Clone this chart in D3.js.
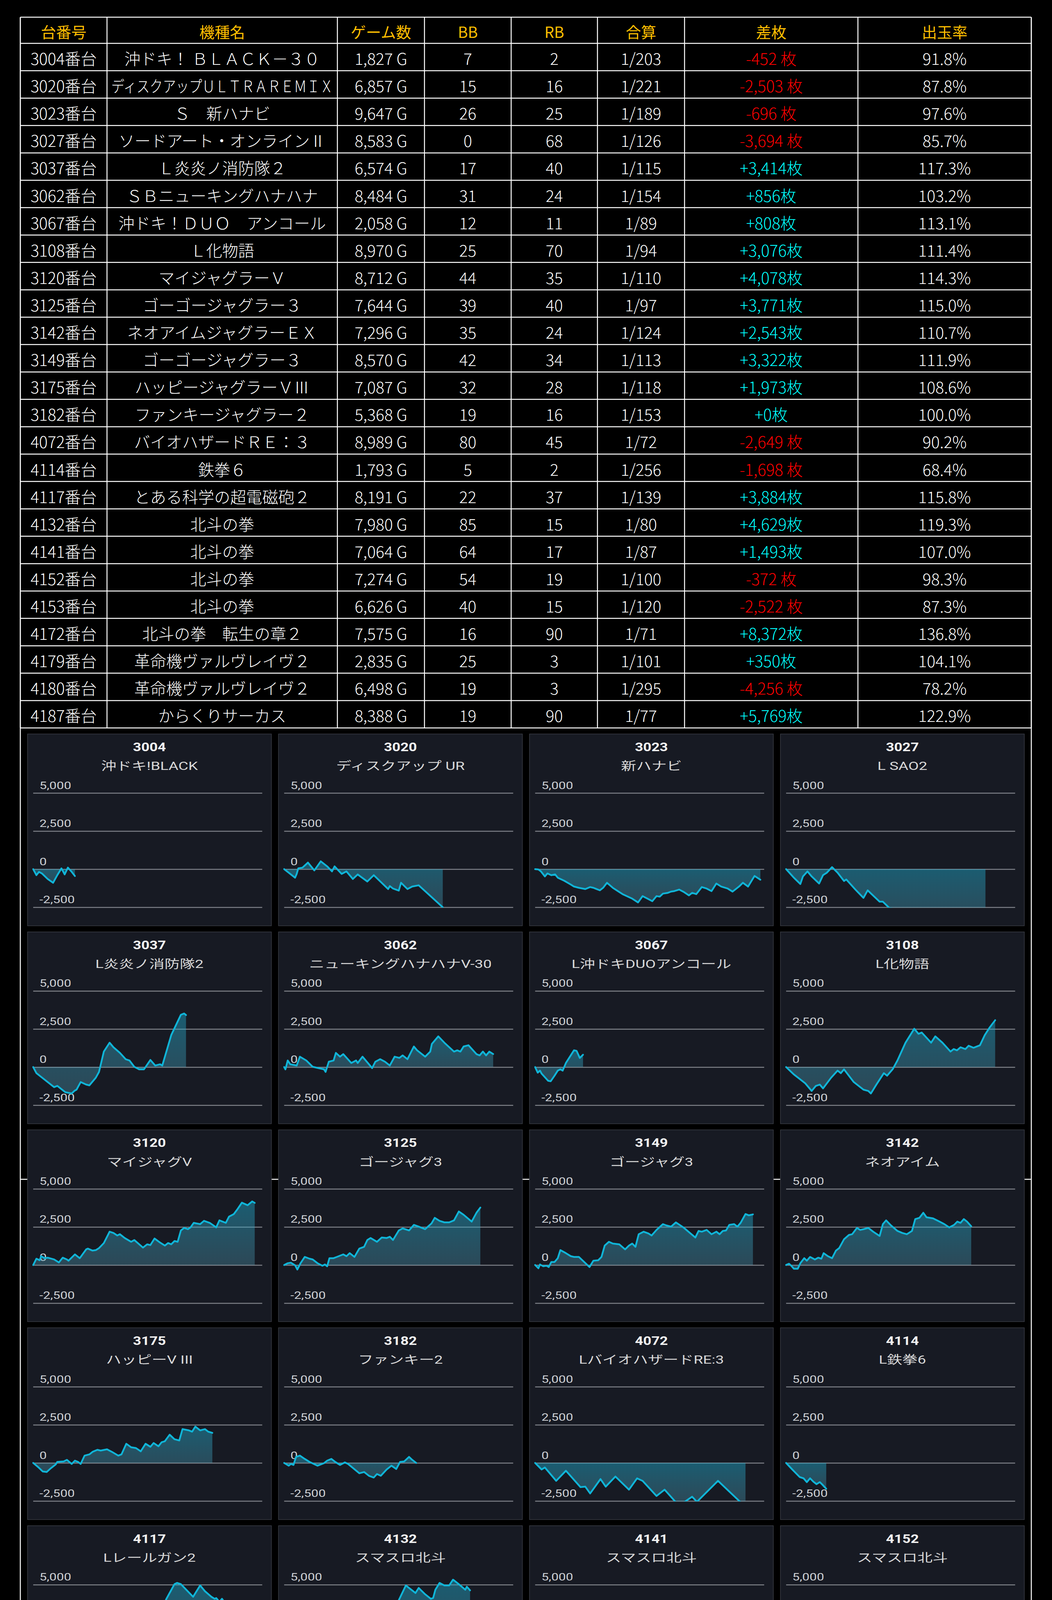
<!DOCTYPE html>
<html>
<head>
<meta charset="utf-8">
<script src="https://cdn.jsdelivr.net/npm/d3@7"></script>
<style>
  body { margin: 0; background: #000; }
</style>
</head>
<body>
<script>
// ====================== TABLE DATA ======================
const machineNos = [3004, 3020, 3023, 3027, 3037, 3062, 3067, 3108, 3120, 3125, 3142, 3149, 3175, 3182, 4072, 4114, 4117, 4132, 4141, 4152, 4153, 4172, 4179, 4180, 4187]
const machineNames = [
  '沖ドキ！ ＢＬＡＣＫ－３０', 'ディスクアップＵＬＴＲＡＲＥＭＩＸ', 'Ｓ　新ハナビ', 'ソードアート・オンラインⅡ',
  'Ｌ炎炎ノ消防隊２', 'ＳＢニューキングハナハナ', '沖ドキ！ＤＵＯ　アンコール', 'Ｌ化物語',
  'マイジャグラーＶ', 'ゴーゴージャグラー３', 'ネオアイムジャグラーＥＸ', 'ゴーゴージャグラー３',
  'ハッピージャグラーＶⅢ', 'ファンキージャグラー２', 'バイオハザードＲＥ：３', '鉄拳６',
  'とある科学の超電磁砲２', '北斗の拳', '北斗の拳', '北斗の拳', '北斗の拳',
  '北斗の拳　転生の章２', '革命機ヴァルヴレイヴ２', '革命機ヴァルヴレイヴ２', 'からくりサーカス'
]
const games = [1827, 6857, 9647, 8583, 6574, 8484, 2058, 8970, 8712, 7644, 7296, 8570, 7087, 5368, 8989, 1793, 8191, 7980, 7064, 7274, 6626, 7575, 2835, 6498, 8388]
const bbCounts = [7, 15, 26, 0, 17, 31, 12, 25, 44, 39, 35, 42, 32, 19, 80, 5, 22, 85, 64, 54, 40, 16, 25, 19, 19]
const rbCounts = [2, 16, 25, 68, 40, 24, 11, 70, 35, 40, 24, 34, 28, 16, 45, 2, 37, 15, 17, 19, 15, 90, 3, 3, 90]
const combined = [203, 221, 189, 126, 115, 154, 89, 94, 110, 97, 124, 113, 118, 153, 72, 256, 139, 80, 87, 100, 120, 71, 101, 295, 77]
const diffs = [-452, -2503, -696, -3694, 3414, 856, 808, 3076, 4078, 3771, 2543, 3322, 1973, 0, -2649, -1698, 3884, 4629, 1493, -372, -2522, 8372, 350, -4256, 5769]
const payouts = [91.8, 87.8, 97.6, 85.7, 117.3, 103.2, 113.1, 111.4, 114.3, 115.0, 110.7, 111.9, 108.6, 100.0, 90.2, 68.4, 115.8, 119.3, 107.0, 98.3, 87.3, 136.8, 104.1, 78.2, 122.9]
const headers = ['台番号', '機種名', 'ゲーム数', 'BB', 'RB', '合算', '差枚', '出玉率']

// ====================== PANEL DATA ======================
const panelNos = [3004, 3020, 3023, 3027, 3037, 3062, 3067, 3108, 3120, 3125, 3149, 3142, 3175, 3182, 4072, 4114, 4117, 4132, 4141, 4152, 4153, 4172, 4179, 4180, 4187]
const panelNames = [
  '沖ドキ!BLACK', 'ディスクアップ UR', '新ハナビ', 'L SAO2',
  'L炎炎ノ消防隊2', 'ニューキングハナハナV-30', 'L沖ドキDUOアンコール', 'L化物語',
  'マイジャグV', 'ゴージャグ3', 'ゴージャグ3', 'ネオアイム',
  'ハッピーV III', 'ファンキー2', 'LバイオハザードRE:3', 'L鉄拳6',
  'Lレールガン2', 'スマスロ北斗', 'スマスロ北斗', 'スマスロ北斗',
  'スマスロ北斗', 'L北斗転生2', 'Lヴァルヴレイヴ2', 'Lヴァルヴレイヴ2',
  'からくりサーカス'
]
const yTicks = [-2500, 0, 2500, 5000]

// [games, difference]
const s3004 = [[0,0],[138,-397],[248,-182],[372,-282],[620,-646],[854,-894],[1034,-397],[1213,50],[1350,-348],[1488,100],[1654,-182],[1791,-452]]
const s3020 = [[0,0],[468,-563],[537,-315],[606,50],[785,100],[1020,430],[1295,-83],[1571,513],[1847,182],[2053,-149],[2163,182],[2467,-315],[2673,-149],[2949,-646],[3156,-348],[3569,-811],[3845,-397],[4465,-1308],[4534,-1110],[4672,-1275],[4920,-1408],[5016,-894],[5292,-1308],[5498,-1143],[5774,-1060],[6807,-2503]]
const s3023 = [[0,0],[138,-17],[249,-149],[417,-480],[527,-282],[693,-397],[860,-348],[972,-563],[1250,-762],[1528,-1010],[1667,-1142],[1875,-1225],[2153,-1308],[2361,-1176],[2500,-1225],[2778,-1391],[2917,-1225],[3084,-894],[3334,-1225],[3750,-1640],[4167,-1937],[4417,-2186],[4611,-1772],[4862,-1970],[5028,-2103],[5209,-1772],[5348,-1805],[5486,-1606],[5695,-1556],[5834,-1474],[5973,-1441],[6181,-1341],[6390,-1507],[6598,-1722],[6737,-1556],[6917,-1640],[7153,-1176],[7362,-1275],[7570,-1441],[7778,-944],[7987,-1143],[8264,-1275],[8473,-1474],[8751,-1143],[8917,-894],[9139,-1143],[9417,-447],[9667,-696]]
const s3027 = [[0,0],[333,-563],[611,-977],[722,-480],[917,-149],[1097,-480],[1417,-944],[1584,-397],[1750,-232],[1972,132],[2209,-232],[2486,-778],[2584,-679],[2973,-1341],[3320,-1888],[3500,-1391],[3806,-1838],[4014,-2136],[4153,-2136],[4431,-2550],[8556,-3694]]
const s3037 = [[0,0],[138,-400],[413,-733],[689,-1067],[896,-1317],[1034,-1234],[1378,-1650],[1654,-1734],[1764,-1567],[1860,-1484],[2039,-983],[2274,-1150],[2412,-1200],[2687,-700],[2825,-317],[3032,1017],[3280,1600],[3445,1300],[3721,933],[3969,517],[4134,433],[4341,17],[4548,-150],[4754,-150],[5030,467],[5237,100],[5444,183],[5540,100],[5925,2100],[6339,3434],[6477,3517],[6559,3414]]
const s3062 = [[0,0],[55,-150],[152,433],[262,183],[537,100],[675,683],[951,433],[1226,17],[1709,-150],[1778,-317],[1915,350],[2122,433],[2219,933],[2398,683],[2536,850],[2881,267],[3087,433],[3156,267],[3362,683],[3776,-67],[3914,350],[4120,517],[4327,350],[4534,100],[4741,683],[4947,600],[5085,767],[5292,517],[5567,1350],[5705,1100],[6050,683],[6270,1017],[6339,1517],[6615,2017],[6876,1600],[7290,1017],[7427,1100],[7565,1017],[7703,1350],[7910,1433],[8254,850],[8392,767],[8530,1017],[8668,767],[8806,1017],[8971,856]]
const s3067 = [[0,0],[111,-367],[208,-233],[278,-433],[556,-900],[667,-933],[833,-567],[972,-233],[1083,-150],[1181,-233],[1320,267],[1667,1100],[1778,1067],[1917,600],[2056,808]]
const s3108 = [[0,0],[333,-483],[542,-733],[681,-900],[820,-1067],[1097,-1567],[1278,-1233],[1445,-1150],[1584,-1400],[1931,-700],[2209,-233],[2348,-400],[2486,-150],[2903,-983],[3320,-1483],[3528,-1567],[3639,-1733],[3875,-1150],[4195,-400],[4334,-567],[4570,-150],[4778,433],[5125,1600],[5500,2517],[5681,2183],[5820,2267],[6223,1600],[6403,2017],[6709,1600],[7056,1017],[7195,1183],[7334,1100],[7487,1300],[7695,1183],[7834,1400],[8042,1267],[8320,1433],[8528,2100],[8737,2600],[8973,3076]]
const s3120 = [[0,0],[138,414],[276,315],[345,580],[482,447],[620,480],[896,364],[1102,166],[1268,480],[1447,364],[1516,282],[1791,696],[1998,447],[2274,1027],[2343,1076],[2549,944],[2687,977],[2825,1110],[3032,1441],[3280,2186],[3445,2103],[3610,1938],[3721,2020],[3927,1772],[4203,1524],[4341,1640],[4713,1143],[4892,1358],[5030,1308],[5209,1739],[5443,1474],[5650,1275],[5788,1441],[5925,1358],[6063,1573],[6201,1524],[6339,2269],[6477,2434],[6642,2351],[6752,2467],[6890,2766],[7166,2683],[7331,2898],[7579,2766],[7855,2467],[7992,2931],[8268,2766],[8406,3180],[8613,3345],[8750,3627],[8957,4090],[9205,3925],[9398,4173],[9508,4078]]
const s3125 = [[0,0],[152,116],[290,149],[469,-17],[565,-298],[703,116],[882,530],[1089,414],[1226,364],[1433,116],[1640,-50],[1750,33],[1846,-83],[1943,447],[2122,447],[2260,530],[2398,613],[2536,696],[2674,580],[2811,779],[3018,530],[3225,1076],[3431,1192],[3569,1640],[3707,1772],[3983,1524],[4189,1805],[4396,1772],[4534,1855],[4671,1640],[4920,2269],[5085,2401],[5360,2269],[5567,2633],[5774,2517],[6050,2352],[6325,2733],[6463,3097],[6670,2898],[6876,2799],[7083,2799],[7290,2931],[7496,3511],[7703,3296],[8048,2849],[8254,3428],[8420,3771]]
const s3149 = [[0,0],[139,-215],[208,33],[347,-83],[486,-50],[583,-132],[695,199],[834,199],[972,447],[1083,977],[1320,778],[1528,580],[1667,530],[1875,530],[2334,-132],[2500,282],[2709,314],[2848,530],[2986,1275],[3167,1524],[3334,1408],[3611,1358],[3862,1027],[4028,1275],[4167,1408],[4306,1192],[4445,2020],[4653,2186],[4862,2069],[5000,1938],[5209,2302],[5486,2683],[5626,2600],[5834,2517],[6042,2799],[6390,2434],[6876,1805],[7014,2236],[7153,2186],[7362,2302],[7570,2020],[7778,2186],[7917,2020],[8056,2236],[8195,2269],[8334,2633],[8542,2683],[8681,2517],[8820,2766],[9029,3345],[9167,3262],[9348,3322]]
const s3142 = [[0,0],[125,83],[222,-50],[333,-248],[500,-248],[611,116],[778,447],[889,282],[1028,530],[1236,364],[1375,480],[1514,414],[1611,778],[1792,580],[1972,447],[2139,944],[2278,1110],[2486,1689],[2695,1971],[2834,2020],[3042,2434],[3181,2302],[3320,2351],[3528,2434],[3737,2186],[4014,1905],[4153,2683],[4292,2931],[4500,2600],[4778,2236],[4986,2103],[5181,2019],[5403,2236],[5542,3014],[5722,3097],[5889,3428],[6028,3130],[6306,3064],[6584,2848],[6792,2683],[7000,2467],[7209,2633],[7348,2848],[7487,2766],[7626,3014],[7764,2848],[7945,2543]]
const s3175 = [[0,0],[207,-265],[413,-563],[579,-596],[758,-348],[965,-99],[1034,66],[1309,99],[1447,199],[1654,-66],[1791,149],[1929,66],[2039,-66],[2205,480],[2412,563],[2549,729],[2756,861],[2894,811],[3169,894],[3376,729],[3652,480],[3790,563],[3996,1259],[4203,1027],[4410,977],[4616,762],[4823,1259],[5030,1060],[5168,1308],[5374,1093],[5512,1358],[5650,1424],[5857,1855],[6063,1557],[6270,1474],[6408,2219],[6684,2136],[6821,2053],[6959,2385],[7166,2136],[7372,2219],[7510,2053],[7689,1973]]
const s3182 = [[0,0],[193,-182],[289,-66],[400,-132],[510,397],[675,480],[882,265],[1089,66],[1433,-182],[1709,-17],[1846,149],[2026,265],[2191,66],[2398,-132],[2605,33],[2743,-66],[3225,-679],[3431,-596],[3638,-845],[3845,-961],[3983,-729],[4148,-845],[4396,-431],[4603,-182],[4810,-398],[4975,66],[5154,99],[5360,397],[5498,199],[5664,0]]
const s4072 = [[0,0],[278,-431],[417,-298],[903,-1176],[1320,-513],[1945,-1590],[2153,-1557],[2361,-2004],[2806,-1060],[3028,-1557],[3445,-894],[4028,-1755],[4375,-1010],[4611,-1176],[5209,-2169],[5556,-1755],[6042,-2584],[6389,-2584],[6737,-2219],[6945,-2550],[7848,-1176],[8820,-2584],[9029,-2649]]
const s4114 = [[0,0],[264,-431],[583,-927],[750,-1010],[889,-1259],[1028,-1010],[1167,-1226],[1306,-1391],[1445,-1259],[1556,-1424],[1722,-1698]]
const s4117 = [[0,0],[110,-182],[248,-17],[413,563],[689,1722],[965,2385],[1171,2848],[1378,2633],[1516,2418],[1654,2633],[1723,2418],[1860,3014],[2067,2799],[2232,3047],[2412,2749],[2508,2881],[2825,2385],[2963,2716],[3169,2302],[3335,2302],[3473,2053],[3652,2467],[3831,2749],[3996,2517],[4134,2302],[4272,2683],[4437,2517],[4616,3014],[4892,3743],[5071,3544],[5168,3627],[5443,3130],[5719,4074],[6063,5034],[6173,5117],[6339,5034],[6863,4206],[7166,4951],[7372,4571],[7648,4206],[7786,4074],[7855,4124],[7992,3875],[8103,4074],[8191,3884]]
const s4132 = [[0,0],[96,149],[234,232],[427,646],[606,1093],[813,1358],[1089,1060],[1295,927],[1433,1308],[1778,762],[2122,364],[2301,397],[2398,811],[2536,646],[2950,149],[3224,480],[3335,480],[3500,17],[3597,563],[3983,1474],[4396,2385],[4809,3627],[5223,4951],[5429,4703],[5636,4455],[5774,4786],[6050,4372],[6297,4074],[6394,4124],[6490,4670],[6670,5117],[6876,4951],[7083,4951],[7248,5332],[7496,5034],[7772,4670],[7841,4869],[7979,4629]]
const s4141 = [[0,0],[111,-265],[208,-298],[278,-513],[486,66],[764,762],[1083,1524],[1278,1093],[1458,1524],[1667,1259],[2014,729],[2153,646],[2292,894],[2431,762],[2528,894],[2709,646],[2848,861],[2986,563],[3125,729],[3264,530],[3334,1093],[3542,927],[3723,927],[3889,1391],[4000,1424],[4195,1755],[4334,1855],[4514,1590],[4653,1391],[4792,1424],[4931,1192],[5028,1524],[5250,1524],[5487,1192],[5695,861],[5973,563],[6112,480],[6278,149],[6389,364],[6500,364],[6695,1093],[6973,1689],[7084,1493]]
const s4152 = [[0,0],[194,-182],[681,-845],[820,-298],[1375,-1010],[1584,-762],[1722,-646],[1792,-563],[1931,-66],[2070,-17],[2250,-298],[2389,-182],[2528,-431],[2625,-182],[2722,-513],[2903,149],[3111,-132],[3320,-431],[3500,-99],[3737,-398],[3945,-66],[4112,-265],[4250,-66],[4431,-679],[4653,-132],[4903,431],[5056,149],[5278,894],[5473,596],[5681,431],[5889,265],[6098,66],[6237,-17],[6973,-1060],[7251,-372]]
const s4153 = [[0,0],[138,166],[345,248],[482,-33],[689,497],[965,132],[1240,-248],[1516,-497],[1654,-696],[1723,-629],[1998,-1076],[2343,-1656],[2687,-2236],[2894,-2186],[3032,-2401],[3197,-2186],[3418,-2567],[4200,-2900],[5100,-2600],[5236,-2153],[5374,-2286],[5540,-2120],[5719,-2319],[5926,-2319],[6132,-2517],[6366,-2319],[6642,-2522]]
const s4172 = [[0,0],[331,-530],[510,-33],[648,-166],[744,-248],[1364,-1242],[1640,-331],[1846,-629],[2026,-248],[2163,-629],[2301,-414],[2604,-1076],[2880,166],[3156,1076],[3294,911],[3404,1358],[3707,1027],[3914,1573],[4189,1126],[4368,1325],[4741,795],[5154,2236],[5223,2236],[5360,2351],[5498,2732],[6187,5216],[6297,5133],[6435,5415],[7593,8372]]
const s4179 = [[0,0],[306,-530],[417,497],[583,960],[764,662],[903,414],[1042,331],[1181,662],[1278,464],[1389,414],[1597,83],[1736,-166],[1834,-248],[2014,-497],[2153,-745],[2250,-745],[2431,795],[2639,414],[2806,350]]
const s4180 = [[0,0],[125,-298],[472,-745],[681,-1076],[778,-580],[958,-994],[1139,-696],[1584,-1242],[1750,-745],[1889,-795],[2111,-1292],[2556,-1987],[2973,-2517],[3194,-2650],[3361,-2020],[3639,-2484],[3950,-2700],[4334,-2517],[4431,-2319],[4570,-2120],[4750,-2484],[6514,-4256]]
const s4187 = [[0,0],[87,-200],[196,-331],[487,-767],[596,-401],[850,-897],[1104,-1246],[1213,-1220],[1286,-1115],[1373,-1394],[1562,-697],[1649,-897],[1867,-331],[2288,627],[2630,0],[2993,-401],[3538,2369],[3973,5314],[4336,4721],[5027,3763],[5281,3328],[5513,3937],[5608,4024],[5898,4678],[6298,4068],[6806,5375],[7200,5900],[7605,5070],[7850,5800],[8077,5174],[8300,5800],[8419,5769]]

const panelSeries = [s3004, s3020, s3023, s3027, s3037, s3062, s3067, s3108, s3120, s3125, s3149, s3142,
  s3175, s3182, s4072, s4114, s4117, s4132, s4141, s4152, s4153, s4172, s4179, s4180, s4187]

// ====================== LAYOUT ======================
const W = 2694, H = 5433
const colEdges = [52, 274, 864, 1087, 1309, 1530, 1753, 2197, 2641]
const tableTop = 44, headerBottom = 111, rowH = 70.1
const tableBottom = headerBottom + rowH * machineNos.length

const svg = d3.select('body').append('svg')
  .attr('width', W)
  .attr('height', H)
  .style('display', 'block')
  .style('background', '#000')

// frame lines behind the panels
const frame = svg.append('g').attr('stroke', '#fff').attr('stroke-width', 2.5)
frame.selectAll('line.v').data([colEdges[0], colEdges[colEdges.length - 1]]).join('line')
  .attr('x1', d => d).attr('x2', d => d).attr('y1', tableTop).attr('y2', H)
frame.selectAll('line.h').data([3019, 4175]).join('line')
  .attr('x1', colEdges[0]).attr('x2', colEdges[colEdges.length - 1]).attr('y1', d => d).attr('y2', d => d)

// ---------- table ----------
const rowY = d3.scaleBand().domain(d3.range(machineNos.length)).range([headerBottom, tableBottom])
const table = svg.append('g').attr('font-family', '"Noto Sans CJK JP", "Noto Sans", sans-serif')

const hLines = [tableTop, headerBottom].concat(d3.range(machineNos.length).map(i => rowY(i) + rowY.bandwidth()))
table.selectAll('line.h').data(hLines).join('line')
  .attr('class', 'h')
  .attr('x1', colEdges[0]).attr('x2', colEdges[colEdges.length - 1])
  .attr('y1', d => d).attr('y2', d => d)
  .attr('stroke', '#fff').attr('stroke-width', 2.5)
table.selectAll('line.v').data(colEdges).join('line')
  .attr('class', 'v')
  .attr('x1', d => d).attr('x2', d => d)
  .attr('y1', tableTop).attr('y2', tableBottom)
  .attr('stroke', '#fff').attr('stroke-width', 2.5)

const colMid = i => (colEdges[i] + colEdges[i + 1]) / 2

table.selectAll('text.head').data(headers).join('text')
  .attr('class', 'head')
  .attr('x', (d, i) => colMid(i))
  .attr('y', (tableTop + headerBottom) / 2 + 2)
  .attr('text-anchor', 'middle')
  .attr('dominant-baseline', 'central')
  .attr('font-size', 39)
  .attr('fill', '#ffbf00')
  .text(d => d)

const fmt = d3.format(',')
const signed = d => (d < 0 ? '-' + fmt(-d) : fmt(d))
const rows = d3.range(machineNos.length).map(i => [
  { t: machineNos[i] + '番台', c: '#fff' },
  { t: machineNames[i], c: '#fff' },
  { t: fmt(games[i]) + ' G', c: '#fff' },
  { t: String(bbCounts[i]), c: '#fff' },
  { t: String(rbCounts[i]), c: '#fff' },
  { t: '1/' + combined[i], c: '#fff' },
  { t: diffs[i] < 0 ? signed(diffs[i]) + ' 枚' : '+' + fmt(diffs[i]) + '枚', c: diffs[i] < 0 ? '#ff0000' : '#00ffff' },
  { t: payouts[i].toFixed(1) + '%', c: '#fff' }
])

const rowG = table.selectAll('g.row').data(rows).join('g')
  .attr('class', 'row')
  .attr('transform', (d, i) => `translate(0, ${rowY(i) + rowY.bandwidth() / 2 + 2})`)

rowG.selectAll('text').data(d => d).join('text')
  .attr('transform', (d, i) => `translate(${colMid(i)}, 0)`)
  .attr('text-anchor', 'middle')
  .attr('dominant-baseline', 'central')
  .attr('font-size', 41)
  .attr('font-weight', 300)
  .attr('fill', d => d.c)
  .text(d => d.t)
  .each(function (d, i) {
    // squeeze long names into the cell, like the sheet does
    const room = colEdges[i + 1] - colEdges[i] - 22
    const len = this.getComputedTextLength()
    if (len > room) {
      d3.select(this).attr('transform', `translate(${colMid(i)}, 0) scale(${room / len}, 1)`)
    }
  })

// ---------- panels ----------
const panelW = 624.5, panelH = 491
const panelLeft = 70.5, panelTop = 1879, pitchX = 642.7, pitchY = 506.7
const gridL = 14.5, gridW = 586.5
const x = d3.scaleLinear().domain([0, 9830]).range([gridL, gridL + gridW])
const y = d3.scaleLinear().domain([-2500, 5000]).range([443.5, 151])
const clipTop = y(5385), clipBottom = y(-2500) + 1

const defs = svg.append('defs')
const grad = defs.append('linearGradient').attr('id', 'areaFill')
  .attr('x1', 0).attr('y1', 0).attr('x2', 0).attr('y2', 1)
grad.append('stop').attr('offset', '0%').attr('stop-color', '#1eafd2').attr('stop-opacity', 0.45)
grad.append('stop').attr('offset', '100%').attr('stop-color', '#56a6c0').attr('stop-opacity', 0.33)

defs.append('clipPath').attr('id', 'plotClip').append('rect')
  .attr('x', gridL - 4).attr('y', clipTop)
  .attr('width', gridW + 8).attr('height', clipBottom - clipTop)

const area = d3.area().x(d => x(d[0])).y0(y(0)).y1(d => y(d[1]))
const line = d3.line().x(d => x(d[0])).y(d => y(d[1]))

const panelFont = 'Roboto, "Noto Sans CJK JP", sans-serif'

const panels = svg.selectAll('g.panel').data(panelNos).join('g')
  .attr('class', 'panel')
  .attr('transform', (d, i) => `translate(${panelLeft + (i % 4) * pitchX}, ${panelTop + Math.floor(i / 4) * pitchY})`)
  .attr('font-family', panelFont)

panels.append('rect')
  .attr('x', 0).attr('y', 0).attr('width', panelW).attr('height', panelH)
  .attr('fill', '#171a23')
  .attr('stroke', '#3a3d45')
  .attr('stroke-width', 1.5)

panels.append('text')
  .attr('transform', `translate(${panelW / 2}, 44) scale(1.15, 1)`)
  .attr('text-anchor', 'middle')
  .attr('font-size', 32)
  .attr('font-weight', 'bold')
  .attr('fill', '#f2f2f2')
  .text(d => d)

panels.append('text')
  .attr('transform', `translate(${panelW / 2}, 82) scale(1.3, 1)`)
  .attr('text-anchor', 'middle')
  .attr('dominant-baseline', 'central')
  .attr('font-size', 30)
  .attr('fill', '#d9d9d9')
  .text((d, i) => panelNames[i])

panels.each(function (d, i) {
  const g = d3.select(this)

  const axis = g.append('g')
    .attr('transform', `translate(${gridL}, 0)`)
    .call(d3.axisLeft(y).tickValues(yTicks).tickSize(-gridW).tickFormat(signed))
  axis.select('.domain').remove()
  axis.selectAll('.tick line').attr('stroke', '#7e8188').attr('stroke-width', 2.5)
  axis.selectAll('.tick text')
    .attr('x', 0).attr('dy', 0).attr('y', 0)
    .attr('transform', 'translate(16, -11) scale(1.28, 1)')
    .attr('text-anchor', 'start')
    .attr('font-family', panelFont)
    .attr('font-size', 26)
    .attr('fill', '#cdd0d4')

  const plot = g.append('g').attr('clip-path', 'url(#plotClip)')
  plot.append('path')
    .datum(panelSeries[i])
    .attr('d', area)
    .attr('fill', 'url(#areaFill)')
  plot.append('path')
    .datum(panelSeries[i])
    .attr('d', line)
    .attr('fill', 'none')
    .attr('stroke', '#10b5d8')
    .attr('stroke-width', 4.5)
    .attr('stroke-linejoin', 'round')
    .attr('stroke-linecap', 'round')
})
</script>
</body>
</html>
